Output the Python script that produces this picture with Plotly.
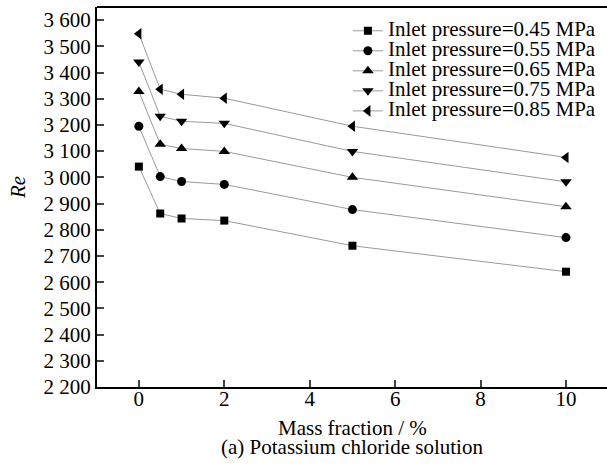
import plotly.graph_objects as go

mass_fraction = [0, 0.5, 1, 2, 5, 10]
series_names = [
    "Inlet pressure=0.45 MPa",
    "Inlet pressure=0.55 MPa",
    "Inlet pressure=0.65 MPa",
    "Inlet pressure=0.75 MPa",
    "Inlet pressure=0.85 MPa",
]
re_045 = [3041, 2862, 2843, 2835, 2739, 2640]
re_055 = [3195, 3003, 2984, 2973, 2877, 2770]
re_065 = [3328, 3126, 3110, 3099, 3000, 2888]
re_075 = [3440, 3233, 3214, 3206, 3099, 2983]
re_085 = [3548, 3336, 3317, 3302, 3195, 3076]
series_values = [re_045, re_055, re_065, re_075, re_085]
symbols = ["square", "circle", "triangle-up", "triangle-down", "triangle-left"]
sizes = [8, 9, 10, 10, 10]
y_ticks = list(range(2200, 3601, 100))
x_ticks = [0, 2, 4, 6, 8, 10]

FONT = "Liberation Serif"
FS = 21

fig = go.Figure()
for name, vals, sym, sz in zip(series_names, series_values, symbols, sizes):
    fig.add_trace(go.Scatter(
        x=mass_fraction, y=vals,
        name='<span style="font-size:%dpx">%s</span>' % (FS, name),
        mode="lines+markers",
        line=dict(color="#9a9a9a", width=1),
        marker=dict(symbol=sym, size=sz, color="black", line=dict(width=0)),
    ))

fig.update_layout(
    width=607, height=466,
    margin=dict(l=97, r=0, t=7, b=79, autoexpand=False),
    paper_bgcolor="white", plot_bgcolor="white",
    font=dict(family=FONT, size=FS, color="black"),
    separators=". ",
    showlegend=True,
    legend=dict(x=0.492, y=0.977, xanchor="left", yanchor="top",
                bgcolor="rgba(0,0,0,0)", font=dict(size=13.1, family=FONT),
                tracegroupgap=0, itemsizing="trace"),
    xaxis=dict(range=[-0.98, 10.96], tickvals=x_ticks, ticks="inside", ticklen=7,
               tickwidth=1.5, showline=True, linewidth=2, linecolor="black",
               mirror=False, showgrid=False, zeroline=False, automargin=False,
               ticklabelstandoff=-8, tickfont=dict(size=FS)),
    yaxis=dict(range=[2200, 3650], tickvals=y_ticks, tickformat=",d",
               ticks="inside", ticklen=7, tickwidth=1.5, showline=True,
               linewidth=2, linecolor="black", showgrid=False, zeroline=False,
               automargin=False, tickfont=dict(size=FS)),
    shapes=[dict(type="line", xref="paper", yref="paper", x0=0, x1=1, y0=1, y1=1,
                 line=dict(color="black", width=2))],
    annotations=[
        dict(text="Mass fraction / %", xref="paper", yref="paper", x=0.5, y=-0.108,
             xanchor="center", yanchor="middle", showarrow=False,
             font=dict(size=FS)),
        dict(text="(a) Potassium chloride solution", xref="paper", yref="paper",
             x=0.5, y=-0.158, xanchor="center", yanchor="middle", showarrow=False,
             font=dict(size=FS)),
        dict(text="<i>Re</i>", xref="paper", yref="paper", x=-0.155, y=0.526,
             xanchor="center", yanchor="middle", showarrow=False, textangle=-90,
             font=dict(size=FS)),
    ],
)
fig.write_html("out.html", config={"displayModeBar": False},
               post_script="document.body.style.margin='0';")
